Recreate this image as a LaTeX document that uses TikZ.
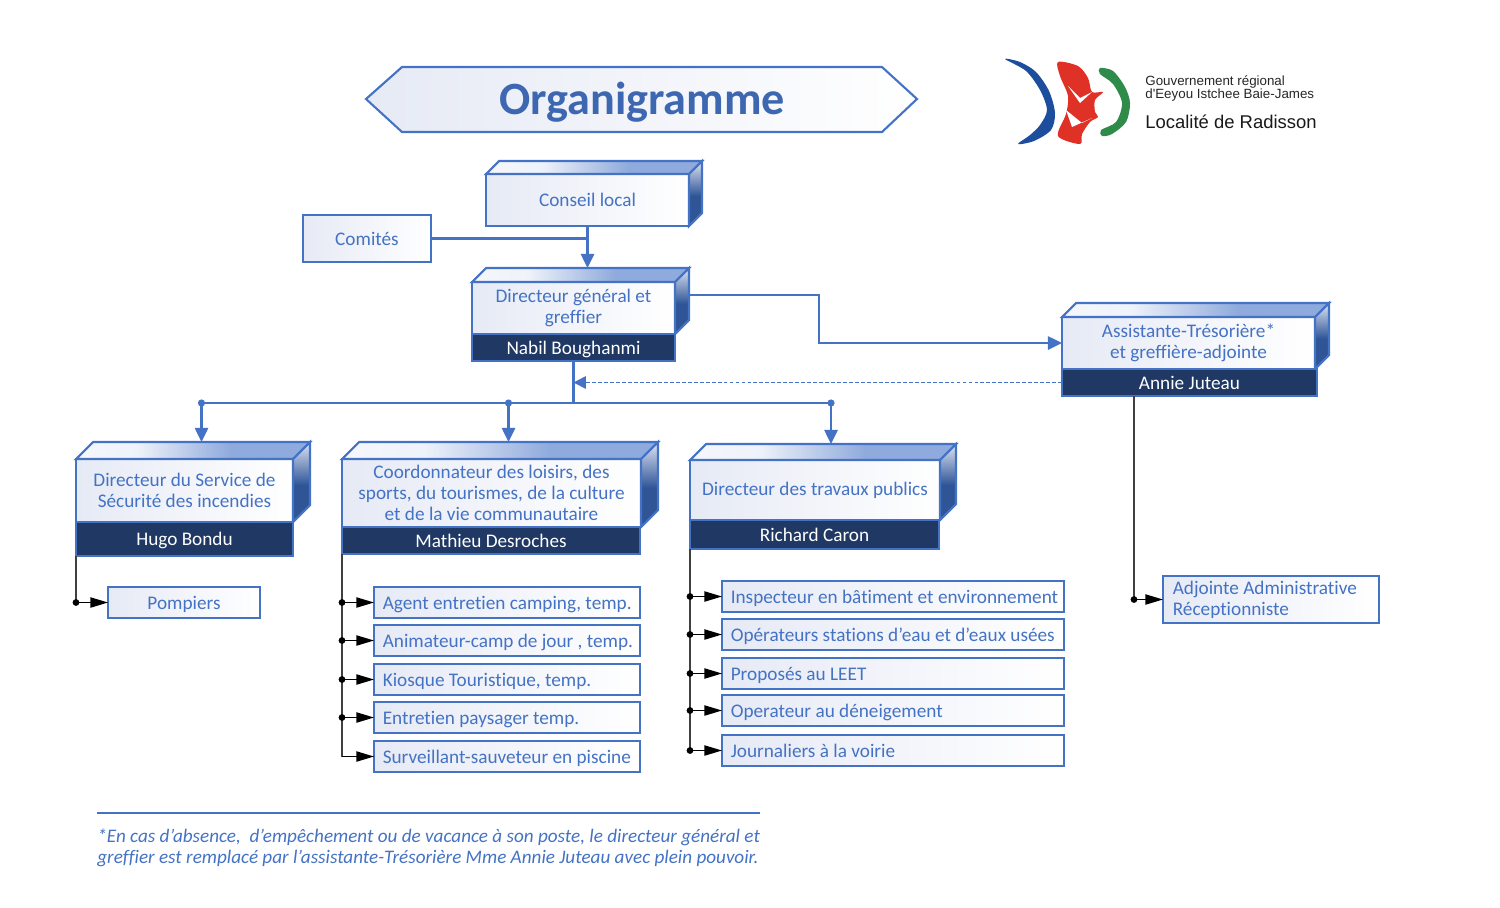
\documentclass[tikz,border=0pt]{standalone}
\usepackage{fontspec}
\setmainfont{Carlito}[Ligatures=NoCommon]
\newfontfamily\logofont{Liberation Sans}
\usetikzlibrary{calc,arrows.meta}

\definecolor{linecol}{HTML}{4472C4}
\definecolor{barcol}{HTML}{1F3864}
\definecolor{facecol}{HTML}{E6EAF5}
\definecolor{midcol}{HTML}{8FAADC}
\definecolor{darkcol}{HTML}{2F5597}
\definecolor{logoblue}{HTML}{1D4E9E}
\definecolor{logored}{HTML}{E03127}
\definecolor{logogreen}{HTML}{2E8B4A}

\pgfdeclarehorizontalshading{topface}{100bp}{color(0bp)=(facecol!40!white); color(25bp)=(facecol!40!white); color(38bp)=(white!85!midcol); color(58bp)=(midcol); color(100bp)=(midcol)}
\pgfdeclareverticalshading{sideface}{100bp}{color(0bp)=(darkcol); color(25bp)=(darkcol); color(48bp)=(darkcol); color(75bp)=(facecol!90!midcol); color(100bp)=(facecol!90!midcol)}

\def\px{0.02cm}
\tikzset{
	txt/.style={text=linecol, font=\fontsize{10.95}{11.9}\selectfont},
	frontbox/.style={txt, draw=linecol, line width=1.2pt, left color=facecol, middle color=white!70!facecol, right color=white, anchor=north west, inner sep=0pt, outer sep=0pt, align=center},
	namebar/.style={draw=linecol, line width=1.2pt, fill=barcol, text=white, font=\fontsize{10.95}{11.9}\selectfont, anchor=north west, inner sep=0pt, outer sep=0pt, align=center, text height=8.4pt, text depth=1pt},
	itemwide/.style={frontbox, align=flush left, text width=194.4pt, minimum height=31*\px, text height=8.4pt, text depth=1pt},
	itemmid/.style={frontbox, align=flush left, text width=151.3pt, minimum height=31*\px, text height=8.4pt, text depth=1pt},
	flow/.style={draw=linecol, line width=1.2pt},
	bluetip/.style={flow, -{Triangle[length=8pt,width=7.5pt]}},
	bluedot/.style={flow, {Circle[length=4pt]}-{Triangle[length=8pt,width=7.5pt]}, shorten <=-2pt},
	trunk/.style={draw=black!75, line width=0.8pt},
	kid/.style={draw=black, line width=0.8pt, {Circle[length=3.8pt]}-{Triangle[length=10pt,width=5.8pt]}, shorten <=-1.9pt},
}
% boite en relief : nom, x, y, largeur, hauteur, profondeur, texte
\newcommand{\solidbox}[7]{
	\node[frontbox, minimum width=#4*\px, minimum height=#5*\px] (#1) at (#2,#3) {#7};
	\draw[linecol, line width=1.2pt, shading=topface] (#1.north west) -- ++(#6,-#6) -- ($(#1.north east)+(#6,-#6)$) -- (#1.north east) -- cycle;
	\draw[linecol, line width=1.2pt, shading=sideface] (#1.north east) -- ++(#6,-#6) -- ++(0,#5) -- (#1.south east) -- cycle;
	\coordinate (#1top) at ($(#1.north)+(#6,-#6)$);
}

\begin{document}
\begin{tikzpicture}[x=0.02cm,y=-0.02cm]
\useasboundingbox (0,0) rectangle (1500,907);

% titre
\draw[linecol, line width=1.2pt, left color=facecol, middle color=white!70!facecol, right color=white] (366,99) -- (402,67) -- (882,67) -- (917,99) -- (882,132) -- (402,132) -- cycle;
\node[text=linecol!90!black, font=\fontsize{26.3}{28}\selectfont\bfseries] (title) at (642,102) {Organigramme};

% logo
\fill[logoblue] plot[smooth cycle] coordinates {(1005,59) (1020,62) (1036,72) (1049,91) (1055,113) (1051,130) (1034,141) (1018,144) (1030,135) (1040,125) (1047,110) (1040,90) (1026,71)};
\fill[logored] plot[smooth cycle] coordinates {(1058,62) (1078,66) (1088,78) (1092,92) (1103,92) (1095,100) (1095,112) (1098,117) (1090,122) (1082,134) (1080,144) (1058,136) (1066,114) (1068,96) (1060,76)};
\fill[white] (1068,86) -- (1080,98) -- (1092,92) -- (1080,103) -- cycle;
\fill[white] (1066,110) -- (1082,123) -- (1092,118) -- (1072,127) -- cycle;
\fill[logogreen] plot[smooth cycle] coordinates {(1100,68) (1113,71) (1125,87) (1130,103) (1126,122) (1112,134) (1102,136) (1101,130) (1116,122) (1122,103) (1113,84) (1100,74)};
\node[anchor=west, inner sep=0pt, text=black!85, font=\logofont\fontsize{7.6}{7.6}\selectfont] (logoA) at (1145,82) {Gouvernement régional};
\node[anchor=west, inner sep=0pt, text=black!85, font=\logofont\fontsize{7.6}{7.6}\selectfont] (logoB) at (1145,95) {d'Eeyou Istchee Baie-James};
\node[anchor=west, inner sep=0pt, text=black!90, font=\logofont\fontsize{10.5}{11}\selectfont] (logoC) at (1145,122) {Localité de Radisson};

% boites principales
\solidbox{conseil}{486}{174}{203}{52}{13}{Conseil local}
\node[frontbox, minimum width=128*\px, minimum height=47*\px] (comites) at (303,215) {Comités};
\solidbox{directeur}{472}{282}{203}{52}{14}{Directeur général et\\greffier}
\node[namebar, minimum width=203*\px, minimum height=27*\px] (nabil) at (472,334) {Nabil Boughanmi};
\solidbox{assistante}{1062}{317}{253}{52}{14}{Assistante-Trésorière*\\et greffière-adjointe}
\node[namebar, minimum width=255*\px, minimum height=27*\px] (annie) at (1062,369) {Annie Juteau};
\solidbox{service}{76}{459}{217}{63}{17}{Directeur du Service de\\Sécurité des incendies}
\node[namebar, minimum width=217*\px, minimum height=34*\px] (hugo) at (76,522) {Hugo Bondu};
\solidbox{loisirs}{342}{459}{299}{68}{17}{Coordonnateur des loisirs, des\\sports, du tourismes, de la culture\\et de la vie communautaire}
\node[namebar, minimum width=298*\px, minimum height=27*\px] (mathieu) at (342,527) {Mathieu Desroches};
\solidbox{travaux}{690}{460}{250}{60}{16}{Directeur des travaux publics}
\node[namebar, minimum width=249*\px, minimum height=29*\px] (richard) at (690,520) {Richard Caron};

% postes
\node[frontbox, minimum width=152*\px, minimum height=31*\px, text height=8.4pt, text depth=1pt] (pompiers) at (108,587) {Pompiers};
\foreach \nm/\ypos/\lab in {agent/587/{Agent entretien camping, temp.},animateur/625/{Animateur-camp de jour , temp.},kiosque/664/{Kiosque Touristique, temp.},paysager/702/{Entretien paysager temp.},sauveteur/741/{Surveillant-sauveteur en piscine}}
	\node[itemmid] (\nm) at (374,\ypos) {\hspace*{5pt}\lab};
\foreach \nm/\ypos/\lab in {inspecteur/581/{Inspecteur en bâtiment et environnement},stations/619/{Opérateurs stations d’eau et d’eaux usées},leet/658/{Proposés au LEET},deneige/695/{Operateur au déneigement},voirie/735/{Journaliers à la voirie}}
	\node[itemwide] (\nm) at (722,\ypos) {\hspace*{5pt}\lab};
\node[frontbox, align=flush left, text width=111.8pt, inner xsep=5.6pt, minimum height=47*\px] (adjointe) at (1163,576) {Adjointe Administrative\\Réceptionniste};

% liens
\draw[flow] (comites.east) -- (comites.east -| conseil.south);
\draw[bluetip] (conseil.south) -- (directeurtop);
\draw[bluetip] ($(directeur.east)+(14,-13)$) -- ++(130,0) |- (assistante.west);
\draw[flow, line width=1pt, dash pattern=on 2.2pt off 1.2pt, -{Triangle[length=7pt,width=7pt]}] (annie.west) -- (annie.west -| nabil.south);
\coordinate (bus) at ($(nabil.south)+(0,42)$);
\draw[flow] (nabil.south) -- (bus);
\draw[flow] (bus -| servicetop) -- (bus -| travauxtop);
\foreach \nm in {service,loisirs,travaux}
	\draw[bluedot] (bus -| \nm top) -- (\nm top);

\draw[trunk] (hugo.south west) -- (pompiers.west -| hugo.south west);
\draw[kid] (pompiers.west -| hugo.south west) -- (pompiers.west);
\draw[trunk] (mathieu.south west) |- (sauveteur.west);
\foreach \nm in {agent,animateur,kiosque,paysager}
	\draw[kid] (\nm.west -| mathieu.south west) -- (\nm.west);
\draw[draw=black, line width=0.8pt, -{Triangle[length=10pt,width=5.8pt]}] (sauveteur.west -| mathieu.south west) -- (sauveteur.west);
\draw[trunk] (richard.south west) -- (voirie.west -| richard.south west);
\foreach \nm in {inspecteur,stations,leet,deneige,voirie}
	\draw[kid] (\nm.west -| richard.south west) -- (\nm.west);
\coordinate (annieleg) at ($(annie.south west)+(72,0)$);
\draw[trunk] (annieleg) -- (annieleg |- adjointe.west);
\draw[kid] (annieleg |- adjointe.west) -- (adjointe.west);

% note
\coordinate (noteA) at (97,813);
\coordinate (noteB) at (760,813);
\draw[linecol, line width=0.8pt] (noteA) -- (noteB);
\node[anchor=north west, inner sep=0pt, align=left, text=linecol, font=\fontsize{10.9}{11.9}\selectfont\itshape] (note) at (97,829) {*En cas d'absence,~ d'empêchement ou de vacance à son poste, le directeur général et\\greffier est remplacé par l’assistante-Trésorière Mme Annie Juteau avec plein pouvoir.};

\end{tikzpicture}
\end{document}
